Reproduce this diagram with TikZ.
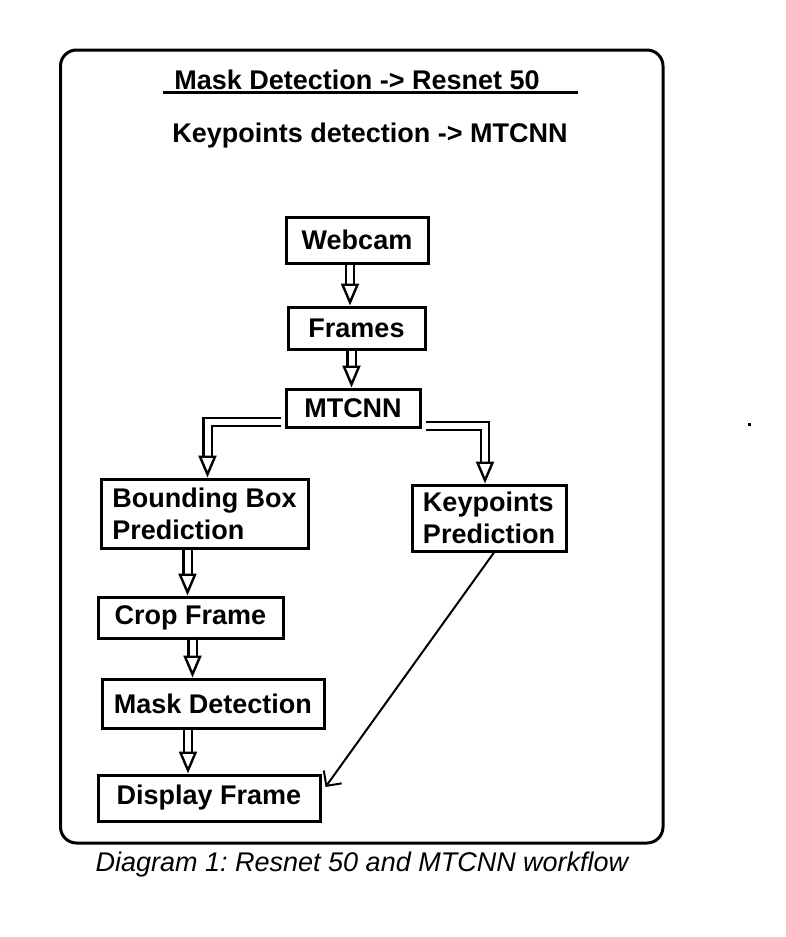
\documentclass[tikz,border=0pt]{standalone}
\usepackage{fontspec}
\setmainfont{Liberation Sans}
\usetikzlibrary{arrows.meta,calc}

\begin{document}
\frenchspacing
\begin{tikzpicture}[x=1pt, y=-1pt,
    box/.style={draw, line width=3pt, inner sep=0pt, align=left, font=\bfseries\fontsize{27}{32}\selectfont},
    hollow/.style={line width=2.4pt, double=white, double distance=6pt, -{Triangle[open, length=22pt, width=18pt]}},
    thin/.style={line width=2pt, -{Straight Barb[length=11pt, width=22pt]}}]
    \useasboundingbox (0,0) rectangle (786,937);
    \draw[line width=3pt, rounded corners=16pt] (60.5,50) rectangle (663,843);

    % headings
    \node[anchor=base, font=\bfseries\fontsize{27}{32}\selectfont] (head) at (357,89) {Mask Detection -> Resnet 50};
    \draw[line width=2.5pt] (163,92.5) -- (578,92.5);
    \node[anchor=base, font=\bfseries\fontsize{27}{32}\selectfont] (sub) at (370,142) {Keypoints detection -> MTCNN};

    % boxes
    \node[box, minimum width=142pt, minimum height=46pt] (webcam) at (357,240) {Webcam};
    \node[box, minimum width=137pt, minimum height=42pt] (frames) at (356.5,328) {Frames};
    \node[box, minimum width=134pt, minimum height=38pt] (mtcnn) at (353,408) {MTCNN};
    \node[box, minimum width=207pt, minimum height=69pt] (bbox) at (204.5,513.5) {Bounding Box\\Prediction};
    \node[box, minimum width=154pt, minimum height=66pt] (kpts) at (489,518) {Keypoints\\Prediction};
    \node[box, minimum width=185pt, minimum height=41pt] (crop) at (190.5,617.5) {Crop Frame};
    \node[box, minimum width=222pt, minimum height=49pt] (mask) at (213,703.5) {Mask Detection};
    \node[box, minimum width=222pt, minimum height=46pt] (disp) at (209,798) {Display Frame};

    % arrows
    \draw[hollow] ([xshift=-7pt]webcam.south) -- ([xshift=-7pt]webcam.south |- frames.north);
    \draw[hollow] ([xshift=-5pt]frames.south) -- ([xshift=-5pt]frames.south |- mtcnn.north);
    \draw[hollow] ([shift={(-4pt,-14pt)}]mtcnn.west) -| ([xshift=3pt]bbox.north);
    \draw[hollow] ([shift={(4pt,-18pt)}]mtcnn.east) -| ([xshift=-4pt]kpts.north);
    \draw[hollow] ([xshift=-17pt]bbox.south) -- ([xshift=-17pt]bbox.south |- crop.north);
    \draw[hollow] ([xshift=2pt]crop.south) -- ([xshift=2pt]crop.south |- mask.north);
    \draw[hollow] ([xshift=-25pt]mask.south) -- ([xshift=-25pt]mask.south |- disp.north);
    \draw[thin] ([xshift=5pt]kpts.south) -- ([shift={(4pt,11pt)}]disp.east);

    \fill (747.5,422.5) rectangle (750.5,425.5);

    % caption
    \node[anchor=base, font=\itshape\fontsize{27}{32}\selectfont] (cap) at (362,871) {Diagram 1: Resnet 50 and MTCNN workflow};
\end{tikzpicture}
\end{document}
